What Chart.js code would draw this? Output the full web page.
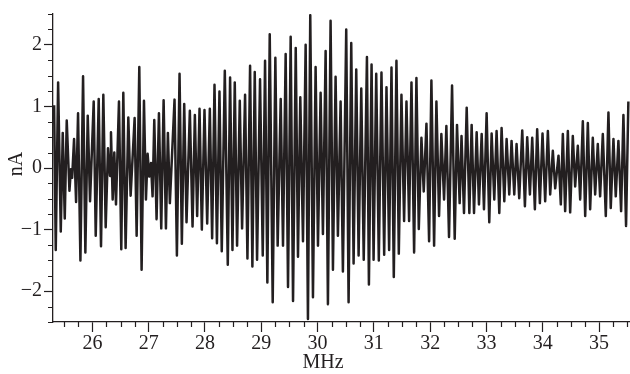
<!DOCTYPE html>
<html>
<head>
<meta charset="utf-8">
<title>nA vs MHz</title>
<script src="https://cdn.jsdelivr.net/npm/chart.js@4.4.1/dist/chart.umd.min.js"></script>
<style>
  html, body { margin: 0; padding: 0; background: #ffffff; }
  #chart { display: block; }
</style>
</head>
<body>
<canvas id="chart" width="630" height="374"></canvas>
<script>
'use strict';

// Frequency (MHz) of each turning point of the trace
const freqMHz = [
  25.320, 25.349, 25.391, 25.438, 25.473, 25.509, 25.544, 25.592, 25.618, 25.640,
  25.674, 25.710, 25.745, 25.787, 25.834, 25.875, 25.917, 25.958, 26.023, 26.059,
  26.112, 26.153, 26.194, 26.236, 26.277, 26.313, 26.330, 26.360, 26.389, 26.419,
  26.472, 26.513, 26.549, 26.590, 26.638, 26.679, 26.750, 26.786, 26.833, 26.874,
  26.916, 26.951, 26.981, 27.010, 27.040, 27.069, 27.099, 27.140, 27.182, 27.223,
  27.265, 27.306, 27.341, 27.376, 27.459, 27.501, 27.548, 27.589, 27.631, 27.672,
  27.731, 27.779, 27.820, 27.861, 27.903, 27.944, 27.991, 28.039, 28.086, 28.127,
  28.169, 28.212, 28.257, 28.298, 28.352, 28.405, 28.446, 28.488, 28.529, 28.570,
  28.618, 28.659, 28.712, 28.754, 28.801, 28.842, 28.884, 28.925, 28.978, 29.026,
  29.067, 29.108, 29.150, 29.203, 29.250, 29.291, 29.345, 29.386, 29.433, 29.475,
  29.522, 29.564, 29.612, 29.652, 29.693, 29.741, 29.788, 29.829, 29.870, 29.918,
  29.965, 30.007, 30.054, 30.095, 30.143, 30.184, 30.231, 30.273, 30.320, 30.361,
  30.409, 30.450, 30.509, 30.551, 30.598, 30.640, 30.687, 30.729, 30.776, 30.820,
  30.877, 30.912, 30.959, 30.995, 31.042, 31.088, 31.135, 31.183, 31.224, 31.271,
  31.313, 31.354, 31.401, 31.443, 31.490, 31.537, 31.579, 31.626, 31.668, 31.715,
  31.756, 31.798, 31.845, 31.886, 31.934, 31.981, 32.022, 32.070, 32.111, 32.158,
  32.199, 32.247, 32.288, 32.335, 32.389, 32.436, 32.477, 32.524, 32.557, 32.601,
  32.649, 32.696, 32.737, 32.779, 32.826, 32.867, 32.915, 32.956, 33.003, 33.050,
  33.092, 33.139, 33.180, 33.228, 33.269, 33.317, 33.358, 33.405, 33.446, 33.494,
  33.535, 33.582, 33.636, 33.683, 33.724, 33.772, 33.813, 33.860, 33.901, 33.949,
  33.996, 34.043, 34.091, 34.132, 34.179, 34.221, 34.280, 34.321, 34.357, 34.398,
  34.446, 34.487, 34.534, 34.576, 34.623, 34.665, 34.712, 34.754, 34.801, 34.842,
  34.889, 34.931, 34.978, 35.019, 35.067, 35.120, 35.167, 35.208, 35.256, 35.297,
  35.344, 35.392, 35.433, 35.480, 35.521
];

// Current (nA) at each of those points
const currentNA = [
   1.02, -1.33,  1.39, -1.03,  0.57, -0.82,  0.77, -0.37, -0.02, -0.16,
   0.47, -0.55,  0.89, -1.50,  1.49, -1.37,  0.85, -0.54,  1.08, -1.10,
   1.12, -1.27,  1.19, -0.96,  0.32, -0.13,  0.58, -0.51,  0.25, -0.59,
   1.08, -1.32,  1.22, -1.30,  0.82, -0.45,  0.81, -1.10,  1.64, -1.65,
   1.09, -0.51,  0.23, -0.14,  0.08, -0.46,  0.78, -0.83,  0.89, -0.98,
   1.10, -0.98,  0.57, -0.57,  1.11, -1.42,  1.53, -1.23,  1.04, -0.88,
   0.93, -0.95,  0.86, -0.78,  0.96, -1.00,  0.94, -0.90,  0.96, -1.14,
   1.35, -1.22,  1.24, -1.35,  1.58, -1.57,  1.47, -1.33,  1.39, -1.26,
   1.09, -0.98,  1.19, -1.47,  1.66, -1.60,  1.56, -1.49,  1.44, -1.42,
   1.74, -1.86,  2.17, -2.18,  1.79, -1.26,  1.12, -1.26,  1.85, -1.93,
   2.13, -2.16,  1.95, -1.44,  1.15, -1.19,  2.00, -2.45,  2.48, -2.10,
   1.64, -1.26,  1.22, -1.07,  1.90, -2.21,  2.39, -1.65,  1.48, -1.10,
   1.08, -1.68,  2.25, -2.18,  2.03, -1.55,  1.60, -1.42,  1.29, -1.49,
   1.80, -1.89,  1.68, -1.49,  1.53, -1.50,  1.55, -1.41,  1.31, -1.33,
   1.63, -1.77,  1.74, -1.39,  1.19, -0.86,  1.08, -0.86,  1.39, -1.37,
   1.46, -0.99,  0.49, -0.38,  0.72, -1.19,  1.42, -1.26,  1.08, -0.78,
   0.55, -0.51,  0.68, -1.12,  1.34, -1.15,  0.70, -0.57,  0.52, -0.73,
   0.98, -0.73,  0.70, -0.73,  0.58, -0.59,  0.55, -0.67,  0.89, -0.88,
   0.56, -0.51,  0.60, -0.73,  0.65, -0.54,  0.47, -0.43,  0.44, -0.43,
   0.39, -0.49,  0.61, -0.62,  0.50, -0.43,  0.49, -0.67,  0.63, -0.57,
   0.56, -0.54,  0.60, -0.43,  0.28, -0.33,  0.20, -0.59,  0.55, -0.70,
   0.60, -0.72,  0.52, -0.30,  0.36, -0.51,  0.76, -0.78,  0.73, -0.67,
   0.49, -0.43,  0.39, -0.46,  0.55, -0.78,  0.90, -0.65,  0.47, -0.46,
   0.44, -0.70,  0.86, -0.94,  1.08
];

// Labelled tick positions
const xMajorTicks = [26, 27, 28, 29, 30, 31, 32, 33, 34, 35];
const yMajorTicks = [-2, -1, 0, 1, 2];

const X_MIN = 25.3, X_MAX = 35.55;
const Y_MIN = -2.5, Y_MAX = 2.5;
const MINOR_STEP = 0.25;

const INK = '#231f20';
const FONT = { family: "'Liberation Serif', 'Times New Roman', serif", size: 20 };

/**
 * Short unlabelled ticks every 0.25 on both axes, plus the axis titles
 */
const minorTicksAndTitles = {
  id: 'minorTicksAndTitles',
  afterDraw(chart) {
    const ctx = chart.ctx;
    const xs = chart.scales.x;
    const ys = chart.scales.y;
    const area = chart.chartArea;

    ctx.save();
    ctx.strokeStyle = INK;
    ctx.lineWidth = 1.2;
    ctx.beginPath();
    for (let v = Math.ceil(X_MIN / MINOR_STEP) * MINOR_STEP; v <= X_MAX + 1e-9; v += MINOR_STEP) {
      if (Math.abs(v - Math.round(v)) < 1e-6) continue;
      const px = Math.round(xs.getPixelForValue(v)) + 0.5;
      ctx.moveTo(px, area.bottom);
      ctx.lineTo(px, area.bottom + 5);
    }
    for (let v = Y_MIN; v <= Y_MAX + 1e-9; v += MINOR_STEP) {
      if (Math.abs(v - Math.round(v)) < 1e-6) continue;
      const py = Math.round(ys.getPixelForValue(v)) + 0.5;
      ctx.moveTo(area.left, py);
      ctx.lineTo(area.left - 5, py);
    }
    ctx.stroke();

    // axis titles
    ctx.fillStyle = INK;
    ctx.font = `${FONT.size}px ${FONT.family}`;
    ctx.textAlign = 'center';
    ctx.textBaseline = 'middle';
    ctx.fillText('MHz', 323, 363);

    ctx.translate(17, 164);
    ctx.rotate(-Math.PI / 2);
    ctx.fillText('nA', 0, 0);
    ctx.restore();
  }
};

const points = freqMHz.map((f, i) => ({ x: f, y: currentNA[i] }));

new Chart(document.getElementById('chart'), {
  type: 'line',
  data: {
    datasets: [{
      data: points,
      borderColor: INK,
      borderWidth: 2.5,
      borderJoinStyle: 'round',
      pointRadius: 0,
      tension: 0,
      fill: false
    }]
  },
  options: {
    responsive: false,
    animation: false,
    devicePixelRatio: 1,
    layout: { padding: { top: 7, right: 0, left: 0, bottom: 0 } },
    plugins: {
      legend: { display: false },
      tooltip: { enabled: false }
    },
    scales: {
      x: {
        type: 'linear',
        min: X_MIN,
        max: X_MAX,
        afterBuildTicks: (scale) => { scale.ticks = xMajorTicks.map(v => ({ value: v })); },
        afterFit: (scale) => { scale.height = 52; },
        border: { display: true, color: INK, width: 1.3 },
        grid: { display: true, drawOnChartArea: false, drawTicks: true, tickLength: 10, tickColor: INK, tickWidth: 1.2 },
        ticks: { color: INK, font: FONT, padding: 0, maxRotation: 0, autoSkip: false }
      },
      y: {
        type: 'linear',
        min: Y_MIN,
        max: Y_MAX,
        afterBuildTicks: (scale) => { scale.ticks = yMajorTicks.map(v => ({ value: v })); },
        afterFit: (scale) => { scale.width = 53; },
        border: { display: true, color: INK, width: 1.3 },
        grid: { display: true, drawOnChartArea: false, drawTicks: true, tickLength: 9, tickColor: INK, tickWidth: 1.2 },
        ticks: {
          color: INK,
          font: FONT,
          padding: 2,
          autoSkip: false,
          callback: (v) => (v < 0 ? '\u2212' + Math.abs(v) : String(v))
        }
      }
    }
  },
  plugins: [minorTicksAndTitles]
});
</script>
</body>
</html>
